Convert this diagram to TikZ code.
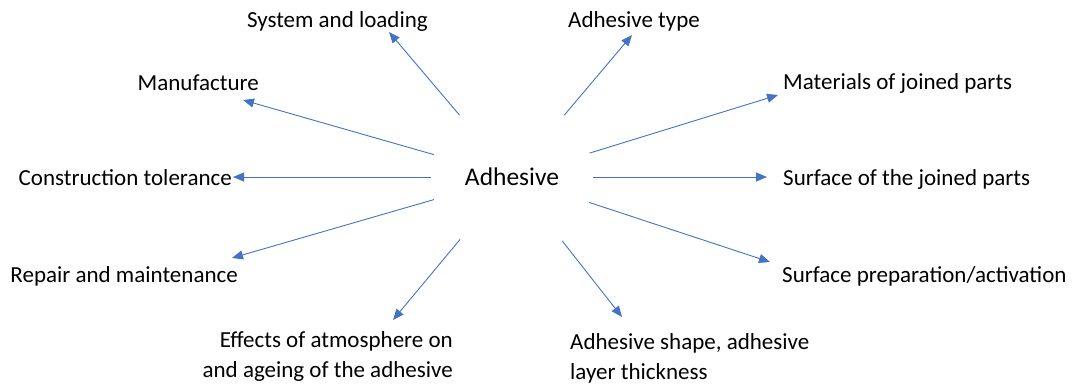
\documentclass[tikz,border=0pt]{standalone}
\usepackage{fontspec}
\setmainfont{Carlito}
\usepackage{xcolor}
\usetikzlibrary{arrows.meta}

\definecolor{arrowblue}{HTML}{4472C4}

\begin{document}
\begin{tikzpicture}[
  x=1pt, y=-1pt,
  lbl/.style={inner sep=0pt, font=\fontsize{23}{30}\selectfont},
  arr/.style={-{Triangle[length=11pt, width=9pt]}, line width=0.9pt,
              color=arrowblue}
]
  \useasboundingbox (0,0) rectangle (1075,383);

  \node (adh) [circle, minimum size=162pt, inner sep=0pt,
               font=\fontsize{25.5}{30}\selectfont] at (512,177) {Adhesive};

  % left side
  \node (sys)  [lbl, anchor=base east] at (428,27)  {System and loading};
  \node (man)  [lbl, anchor=base east] at (259,90)  {Manufacture};
  \node (tol)  [lbl, anchor=base east] at (232,185) {Construction tolerance};
  \node (rep)  [lbl, anchor=base east] at (238,282) {Repair and maintenance};
  \node (atm)  [lbl, anchor=base east, align=right] at (453,377)
               {Effects of atmosphere on\\and ageing of the adhesive};

  % right side
  \node (typ)  [lbl, anchor=base west] at (568,27)  {Adhesive type};
  \node (mat)  [lbl, anchor=base west] at (783,89)  {Materials of joined parts};
  \node (surf) [lbl, anchor=base west] at (783,185) {Surface of the joined parts};
  \node (prep) [lbl, anchor=base west] at (782,282) {Surface preparation/activation};
  \node (shp)  [lbl, anchor=base west, align=left] at (570,379)
               {Adhesive shape, adhesive\\layer thickness};

  % arrow tips
  \coordinate (sys-t)  at (389,32);
  \coordinate (man-t)  at (243,100);
  \coordinate (tol-t)  at (233,177);
  \coordinate (rep-t)  at (232,258);
  \coordinate (atm-t)  at (393,320);
  \coordinate (typ-t)  at (632,35);
  \coordinate (mat-t)  at (778,95);
  \coordinate (surf-t) at (767,177);
  \coordinate (prep-t) at (770,262);
  \coordinate (shp-t)  at (622,317);

  \draw[arr] (adh) -- (sys-t);
  \draw[arr] (adh) -- (man-t);
  \draw[arr] (adh) -- (tol-t);
  \draw[arr] (adh) -- (rep-t);
  \draw[arr] (adh) -- (atm-t);
  \draw[arr] (adh) -- (typ-t);
  \draw[arr] (adh) -- (mat-t);
  \draw[arr] (adh) -- (surf-t);
  \draw[arr] (adh) -- (prep-t);
  \draw[arr] (adh) -- (shp-t);
\end{tikzpicture}
\end{document}
